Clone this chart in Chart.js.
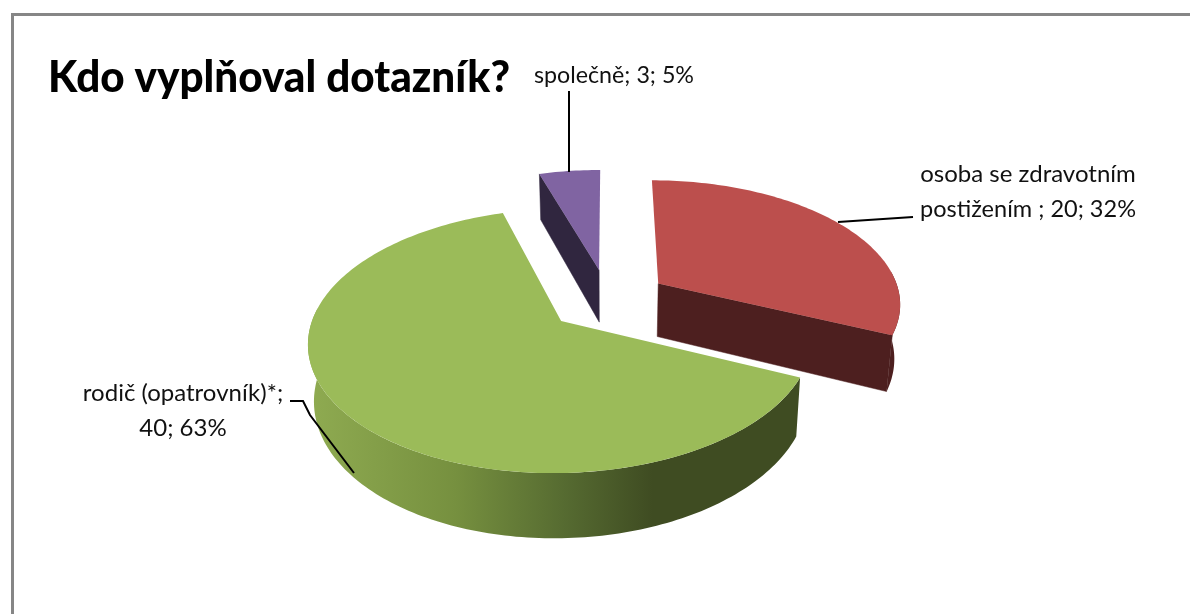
<!DOCTYPE html>
<html lang="cs">
<head>
<meta charset="utf-8">
<title>Kdo vyplňoval dotazník?</title>
<script src="https://cdn.jsdelivr.net/npm/chart.js@4"></script>
<style>
  html, body { margin: 0; padding: 0; background: #fff; overflow: hidden; }
  canvas { display: block; }
</style>
</head>
<body>
<canvas id="pieChart" width="1190" height="614"></canvas>
<script>
(() => {
  'use strict'

  const chartTitle = 'Kdo vyplňoval dotazník?';
  const categories = ['osoba se zdravotním postižením ', 'rodič (opatrovník)*', 'společně'];
  const counts = [20, 40, 3];

  const sliceColors = ['#bc4f4d', '#9bbb59', '#8064a2'];
  const wallColors = ['#4d1f1f', '#3f4c22', '#30263f'];
  const explode = [61, 61, 62];

  // shading along the green rim, left to right
  const rimStops = [[0, '#8fab51'], [0.3, '#76903f'], [0.52, '#566b31'], [0.7, '#3f4c22'], [1, '#3f4c22']];

  // where each data label goes: centre x, first baseline, squeeze width
  const labelCenterX = [1028, 183, 614];
  const labelBaseline = [182, 401, 83];
  const labelFit = [216, 206, 160];
  const labelWrap = 225;

  // leader lines from label to slice
  const leaders = [
    [[913, 217], [838, 222]],
    [[290, 401], [303, 401], [310, 415], [354, 473]],
    [[569, 91], [569, 172]]
  ];

  // the tilted view of the pie plane
  const squash = 0.506;
  const perspective = 0.000606;
  const thickness = 54;
  const bottomShrink = 0.02;

  const total = counts.reduce((a, b) => a + b, 0);

  const project = (cx, cy, u, v, z) => {
    const w = 1 - perspective * v;
    return [cx + (u / w) * (1 - bottomShrink * z), cy + (squash * v) / w + (z * thickness) / w];
  };

  const trace = (ctx, pts) => {
    ctx.beginPath();
    pts.forEach((p, i) => (i ? ctx.lineTo(p[0], p[1]) : ctx.moveTo(p[0], p[1])));
    ctx.closePath();
  };

  const drawSlice = (ctx, arc, index) => {
    const { x, y, startAngle, endAngle, outerRadius, options } = arc;
    const mid = (startAngle + endAngle) / 2;
    const ox = Math.cos(mid) * options.offset;
    const oy = Math.sin(mid) * options.offset;
    const rim = (a, z) => project(x, y, ox + outerRadius * Math.cos(a), oy + outerRadius * Math.sin(a), z);
    const apex = (z) => project(x, y, ox, oy, z);
    const sweep = (a0, a1, z) => {
      const steps = Math.max(2, Math.ceil(Math.abs(a1 - a0) / 0.02));
      return Array.from({ length: steps + 1 }, (_, i) => rim(a0 + ((a1 - a0) * i) / steps, z));
    };

    ctx.fillStyle = wallColors[index];
    ctx.strokeStyle = wallColors[index];
    ctx.lineWidth = 0.5;

    // flat cut faces, only the ones turned towards the viewer
    if (-Math.cos(startAngle) > 0) {
      trace(ctx, [apex(0), rim(startAngle, 0), rim(startAngle, 1), apex(1)]);
      ctx.fill();
      ctx.stroke();
    }
    if (Math.cos(endAngle) > 0) {
      trace(ctx, [apex(0), rim(endAngle, 0), rim(endAngle, 1), apex(1)]);
      ctx.fill();
      ctx.stroke();
    }

    // outer rim between 0 and PI faces front
    const a0 = Math.max(startAngle, -0.1);
    const a1 = Math.min(endAngle, Math.PI + 0.1);
    if (a1 > a0) {
      if (index === 1) {
        const grad = ctx.createLinearGradient(308, 0, 800, 0);
        rimStops.forEach(([pos, color]) => grad.addColorStop(pos, color));
        ctx.fillStyle = grad;
      }
      trace(ctx, sweep(a0, a1, 0).concat(sweep(a1, a0, 1)));
      ctx.fill();
    }

    trace(ctx, [apex(0)].concat(sweep(startAngle, endAngle, 0)));
    ctx.fillStyle = sliceColors[index];
    ctx.fill();
  };

  const wrapLabel = (ctx, text, width) => {
    const lines = [];
    text.split(' ').forEach((word) => {
      const last = lines[lines.length - 1];
      if (last !== undefined && ctx.measureText(last + ' ' + word).width <= width) {
        lines[lines.length - 1] = last + ' ' + word;
      } else {
        lines.push(word);
      }
    });
    return lines;
  };

  const tiltedPie = {
    id: 'tiltedPie',
    beforeDraw(chart) {
      const { ctx } = chart;
      ctx.save();
      ctx.strokeStyle = '#868686';
      ctx.lineWidth = 3;
      ctx.strokeRect(12.5, 14.5, 1400, 900);
      ctx.restore();
    },
    beforeDatasetsDraw(chart) {
      const { ctx } = chart;
      const arcs = chart.getDatasetMeta(0).data.map((arc, index) => ({ arc, index }));
      // far slices first
      arcs.sort((a, b) =>
        Math.sin((a.arc.startAngle + a.arc.endAngle) / 2) - Math.sin((b.arc.startAngle + b.arc.endAngle) / 2));
      ctx.save();
      arcs.forEach(({ arc, index }) => drawSlice(ctx, arc, index));
      ctx.restore();
      return false;
    },
    afterDraw(chart) {
      const { ctx } = chart;
      ctx.save();
      ctx.fillStyle = '#000';
      ctx.textBaseline = 'alphabetic';

      ctx.font = '900 43px Lato, "Open Sans", sans-serif';
      ctx.textAlign = 'left';
      ctx.fillText(chartTitle, 48, 92, 462);

      ctx.strokeStyle = '#000';
      ctx.lineWidth = 2;
      leaders.forEach((path) => {
        ctx.beginPath();
        path.forEach((p, i) => (i ? ctx.lineTo(p[0], p[1]) : ctx.moveTo(p[0], p[1])));
        ctx.stroke();
      });

      ctx.font = '24px Lato, "Open Sans", sans-serif';
      ctx.textAlign = 'center';
      ctx.fillStyle = '#111';
      categories.forEach((name, i) => {
        const text = `${name}; ${counts[i]}; ${Math.round((counts[i] / total) * 100)}%`;
        wrapLabel(ctx, text, labelWrap).forEach((line, n) => {
          ctx.fillText(line, labelCenterX[i], labelBaseline[i] + n * 35, labelFit[i]);
        });
      });
      ctx.restore();
    }
  };

  const myChart = new Chart(document.getElementById('pieChart').getContext('2d'), {
    type: 'pie',
    data: {
      labels: categories,
      datasets: [{
        data: counts,
        backgroundColor: sliceColors,
        borderWidth: 0,
        offset: explode,
        radius: 243
      }]
    },
    options: {
      responsive: false,
      animation: false,
      rotation: 0,
      layout: { padding: { left: 26, bottom: 14 } },
      plugins: {
        legend: { display: false },
        tooltip: { enabled: false }
      }
    },
    plugins: [tiltedPie]
  });
})()
</script>
</body>
</html>
